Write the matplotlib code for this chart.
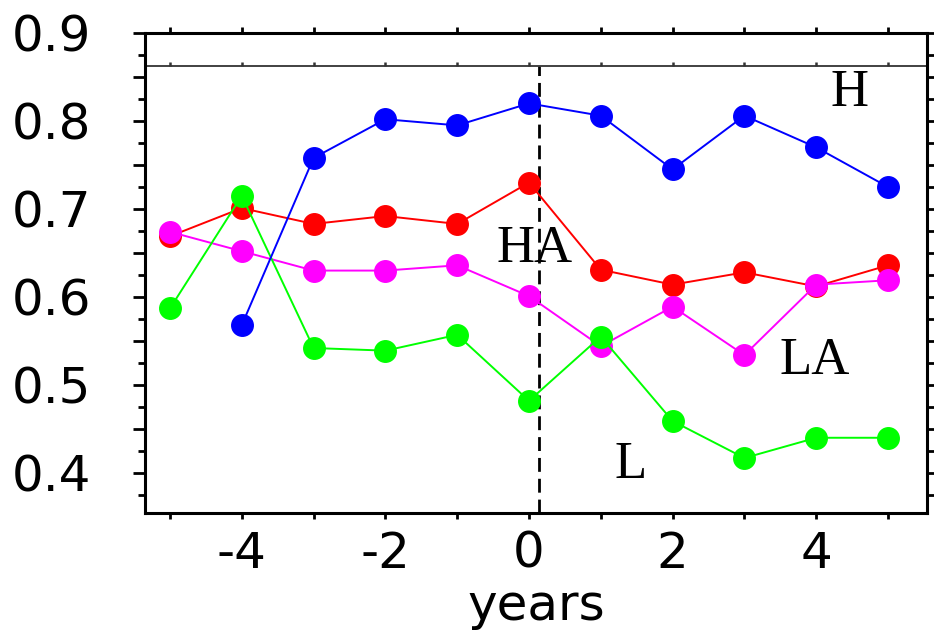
import numpy as np
import matplotlib.pyplot as plt
from matplotlib.ticker import MultipleLocator, FuncFormatter

years = [-5, -4, -3, -2, -1, 0, 1, 2, 3, 4, 5]

# H (blue) has no value at -5
h_years = [-4, -3, -2, -1, 0, 1, 2, 3, 4, 5]
h_vals = [0.568, 0.758, 0.802, 0.795, 0.820, 0.806, 0.745, 0.806, 0.770, 0.725]
ha_vals = [0.669, 0.701, 0.683, 0.692, 0.683, 0.730, 0.631, 0.614, 0.628, 0.612, 0.636]
la_vals = [0.674, 0.652, 0.630, 0.630, 0.636, 0.601, 0.544, 0.589, 0.534, 0.614, 0.619]
l_vals = [0.587, 0.715, 0.542, 0.539, 0.557, 0.482, 0.555, 0.459, 0.417, 0.440, 0.440]

labels = ['H', 'HA', 'LA', 'L']
label_pos = [(4.47, 0.832), (0.08, 0.655), (3.98, 0.527), (1.42, 0.409)]

event_x = 0.14      # dashed line
top_line = 0.8625   # inner horizontal line

fig = plt.figure(figsize=(9.34, 6.3), dpi=100)
ax = fig.add_axes([145 / 934, 1 - 513 / 630, 782 / 934, 480 / 630])

ms = 15.5
lw = 1.4
ax.plot(years, ha_vals, color='#ff0000', lw=lw, marker='o', ms=ms, zorder=3)
ax.plot(years, la_vals, color='#ff00ff', lw=lw, marker='o', ms=ms, zorder=4)
ax.plot(years, l_vals, color='#00ff00', lw=lw, marker='o', ms=ms, zorder=5)
ax.plot(h_years, h_vals, color='#0000ff', lw=lw, marker='o', ms=ms, zorder=6)

ax.set_xlim(-5.348, 5.543)
ax.set_ylim(0.3545, 0.9)

ax.plot([event_x, event_x], [0.3545, top_line], color='black', lw=2,
        ls=(0, (5, 2.5)), zorder=2)
ax.axhline(top_line, color='#333333', lw=1.3, zorder=2)
ax.plot(years, [top_line] * len(years), ls='none', marker=2, ms=3,
        mew=1.8, color='#333333', zorder=2)

for txt, (tx, ty) in zip(labels, label_pos):
    ax.text(tx, ty, txt, family='Liberation Serif', fontsize=38,
            ha='center', va='center', zorder=7)

ax.xaxis.set_major_locator(MultipleLocator(2))
ax.xaxis.set_minor_locator(MultipleLocator(1))
ax.yaxis.set_major_locator(MultipleLocator(0.05))
ax.yaxis.set_minor_locator(MultipleLocator(0.025))


def yfmt(v, pos):
    if abs(round(v * 10) - v * 10) < 1e-6:
        return '%.1f' % v
    return ''


ax.yaxis.set_major_formatter(FuncFormatter(yfmt))
ax.xaxis.set_major_formatter(FuncFormatter(lambda v, p: '%d' % v))

for s in ax.spines.values():
    s.set_linewidth(2.2)

ax.tick_params(axis='x', which='both', direction='out', top=True, length=4,
               width=2, labelsize=36, pad=8)
ax.tick_params(axis='y', which='major', direction='out', right=True,
               length=9, width=2, labelsize=36, pad=30)
ax.tick_params(axis='y', which='minor', direction='out', right=True,
               length=5, width=2)

ax.set_xlabel('years', fontsize=36, labelpad=3)

fig.savefig('out.png', dpi=100)
